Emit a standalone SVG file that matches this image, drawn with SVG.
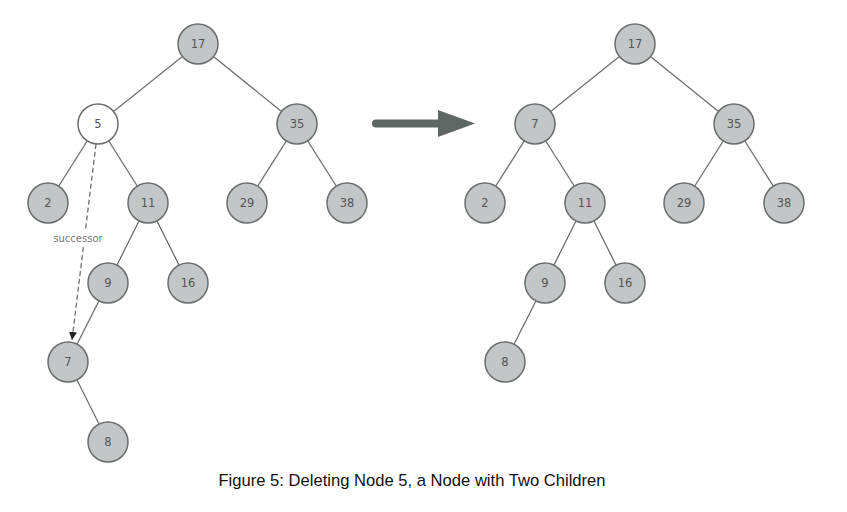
<svg xmlns="http://www.w3.org/2000/svg" width="847" height="512" viewBox="0 0 847 512">
<style>
.n circle{fill:#c3c6c7;stroke:#6b6d6d;stroke-width:1.5}
.n text{font-family:"DejaVu Sans",sans-serif;font-size:11.5px;fill:#555;text-anchor:middle;dominant-baseline:central}
.e line{stroke:#6e6e6e;stroke-width:1.3}
.w circle{fill:#ffffff}
</style>
<defs>
<marker id="ah" viewBox="0 0 10 10" refX="10" refY="5" markerWidth="8" markerHeight="8" markerUnits="userSpaceOnUse" orient="auto">
<path d="M0,0 L10,5 L0,10 z" fill="#222"/>
</marker>
</defs>
<rect width="847" height="512" fill="#fff"/>
<g id="connectors" class="e">
<line x1="198" y1="44" x2="98" y2="124"/>
<line x1="198" y1="44" x2="297" y2="124"/>
<line x1="98" y1="124" x2="48" y2="203"/>
<line x1="98" y1="124" x2="148" y2="203"/>
<line x1="297" y1="124" x2="247" y2="203"/>
<line x1="297" y1="124" x2="347" y2="203"/>
<line x1="148" y1="203" x2="108" y2="283"/>
<line x1="148" y1="203" x2="188" y2="283"/>
<line x1="108" y1="283" x2="68" y2="362"/>
<line x1="68" y1="362" x2="108" y2="442"/>
<line x1="635" y1="44" x2="535" y2="124"/>
<line x1="635" y1="44" x2="734" y2="124"/>
<line x1="535" y1="124" x2="485" y2="203"/>
<line x1="535" y1="124" x2="585" y2="203"/>
<line x1="734" y1="124" x2="684" y2="203"/>
<line x1="734" y1="124" x2="784" y2="203"/>
<line x1="585" y1="203" x2="545" y2="283"/>
<line x1="585" y1="203" x2="625" y2="283"/>
<line x1="545" y1="283" x2="505" y2="362"/>
<line x1="96" y1="144" x2="72" y2="340" stroke="#555" stroke-dasharray="5,3" marker-end="url(#ah)"/>
</g>
<g id="successor-label">
<rect x="51" y="231" width="54" height="14" fill="#fff"/>
<text x="78" y="241.5" font-family="DejaVu Sans,sans-serif" font-size="10" fill="#777" text-anchor="middle">successor</text>
</g>
<g id="big-arrow">
<line x1="376" y1="123.5" x2="440" y2="123.5" stroke="#5f6765" stroke-width="8" stroke-linecap="round"/>
<polygon points="438,110 475,123.5 438,137" fill="#5f6765"/>
</g>
<g id="L17" class="n"><circle cx="198" cy="44" r="20"/><text x="198" y="44">17</text></g>
<g id="L5" class="n w"><circle cx="98" cy="124" r="20"/><text x="98" y="124">5</text></g>
<g id="L35" class="n"><circle cx="297" cy="124" r="20"/><text x="297" y="124">35</text></g>
<g id="L2" class="n"><circle cx="48" cy="203" r="20"/><text x="48" y="203">2</text></g>
<g id="L11" class="n"><circle cx="148" cy="203" r="20"/><text x="148" y="203">11</text></g>
<g id="L29" class="n"><circle cx="247" cy="203" r="20"/><text x="247" y="203">29</text></g>
<g id="L38" class="n"><circle cx="347" cy="203" r="20"/><text x="347" y="203">38</text></g>
<g id="L9" class="n"><circle cx="108" cy="283" r="20"/><text x="108" y="283">9</text></g>
<g id="L16" class="n"><circle cx="188" cy="283" r="20"/><text x="188" y="283">16</text></g>
<g id="L7" class="n"><circle cx="68" cy="362" r="20"/><text x="68" y="362">7</text></g>
<g id="L8" class="n"><circle cx="108" cy="442" r="20"/><text x="108" y="442">8</text></g>
<g id="R17" class="n"><circle cx="635" cy="44" r="20"/><text x="635" y="44">17</text></g>
<g id="R7" class="n"><circle cx="535" cy="124" r="20"/><text x="535" y="124">7</text></g>
<g id="R35" class="n"><circle cx="734" cy="124" r="20"/><text x="734" y="124">35</text></g>
<g id="R2" class="n"><circle cx="485" cy="203" r="20"/><text x="485" y="203">2</text></g>
<g id="R11" class="n"><circle cx="585" cy="203" r="20"/><text x="585" y="203">11</text></g>
<g id="R29" class="n"><circle cx="684" cy="203" r="20"/><text x="684" y="203">29</text></g>
<g id="R38" class="n"><circle cx="784" cy="203" r="20"/><text x="784" y="203">38</text></g>
<g id="R9" class="n"><circle cx="545" cy="283" r="20"/><text x="545" y="283">9</text></g>
<g id="R16" class="n"><circle cx="625" cy="283" r="20"/><text x="625" y="283">16</text></g>
<g id="R8" class="n"><circle cx="505" cy="362" r="20"/><text x="505" y="362">8</text></g>
<text x="412" y="486" font-family="Liberation Sans,Arial,sans-serif" font-size="16.6" fill="#111" text-anchor="middle">Figure 5: Deleting Node 5, a Node with Two Children</text>
</svg>
